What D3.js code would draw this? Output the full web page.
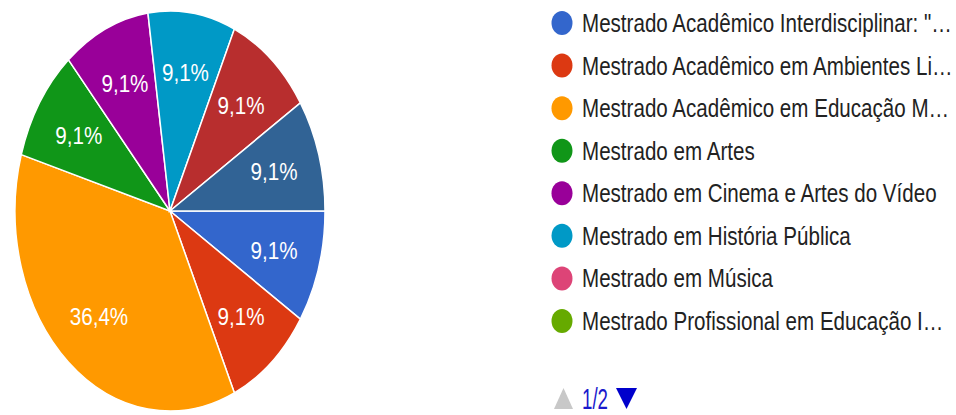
<!DOCTYPE html>
<html><head><meta charset="utf-8">
<script src="https://cdn.jsdelivr.net/npm/d3@7"></script>
<style>html,body{margin:0;padding:0;background:#fff;}svg{display:block;font-family:"Liberation Sans",Arial,sans-serif;}</style>
</head><body>
<svg id="c" width="956" height="415"></svg>
<script>
const categories = [
  'Mestrado Acadêmico Interdisciplinar: "…',
  'Mestrado Acadêmico em Ambientes Li…',
  'Mestrado Acadêmico em Educação M…',
  'Mestrado em Artes',
  'Mestrado em Cinema e Artes do Vídeo',
  'Mestrado em História Pública',
  'Mestrado em Música',
  'Mestrado Profissional em Educação I…',
  'Categoria 9',
  'Categoria 10'
];
const values = [1, 1, 4, 1, 1, 1, 0, 0, 1, 1];
const colors = ["#3366cc","#dc3912","#ff9900","#109618","#990099","#0099c6","#dd4477","#66aa00","#b82e2e","#316395"];
const legendCount = 8;
const pageLabel = "1/2";

const svg = d3.select("#c");
const cx = 170, cy = 211, R = 200, sx = 0.775;

const pie = d3.pie().sort(null).value(d => d.v).startAngle(Math.PI/2).endAngle(Math.PI/2 + 2*Math.PI);
const data = pie(values.map((v,i)=>({v, i})));
const arc = d3.arc().innerRadius(0).outerRadius(R);
const total = d3.sum(values);

const g = svg.append("g").attr("transform", `translate(${cx},${cy}) scale(${sx},1)`);
g.selectAll("path").data(data.filter(d=>d.data.v>0)).join("path")
  .attr("d", arc)
  .attr("fill", d => colors[d.data.i])
  .attr("stroke", "#fff")
  .attr("stroke-width", 1.5)
  .attr("vector-effect", "non-scaling-stroke");

const labelArc = d3.arc().innerRadius(R*0.7).outerRadius(R*0.7);
const fmt = v => (Math.round(v/total*1000)/10).toFixed(1).replace(".", ",") + "%";
const lg = svg.append("g").attr("transform", `translate(${cx},${cy})`);
const labels = lg.selectAll("text").data(data.filter(d=>d.data.v>0)).join("text")
  .attr("fill", "#fff")
  .attr("font-size", 24)
  .attr("text-anchor", "middle")
  .text(d => fmt(d.data.v));
const tw = labels.node().getComputedTextLength();
const lsx = 47 / tw;
labels.attr("transform", d => { const c = labelArc.centroid(d); return `translate(${c[0]*sx},${c[1]+8.5}) scale(${lsx},1)`; });

// legend
const leg = svg.append("g");
const rowY = d3.scaleLinear().domain([0, legendCount-1]).range([32, 330]);
const items = leg.selectAll("g").data(d3.range(legendCount)).join("g")
  .attr("transform", i => `translate(0,${rowY(i)})`);
items.append("ellipse").attr("cx", 562).attr("cy", -9).attr("rx", 10.5).attr("ry", 12).attr("fill", i => colors[i]);
const ltexts = items.append("text").attr("x", 0).attr("y", 0).attr("font-size", 26.5).attr("fill", "#222").text(i => categories[i]);
const w0 = ltexts.node().getComputedTextLength();
const tsx = 370 / w0;
ltexts.attr("transform", `translate(582,0) scale(${tsx},1)`);

// pager
const py = 409;
svg.append("path").attr("d", `M554,${py} L563.5,388 L573,${py} Z`).attr("fill", "#c8c8c8");
const pt = svg.append("text").attr("font-size", 29).attr("fill", "#1a1acc").text(pageLabel);
const pw = pt.node().getComputedTextLength();
pt.attr("transform", `translate(582,${py}) scale(${26/pw},1)`);
svg.append("path").attr("d", `M616,388 L637,388 L626.5,${py} Z`).attr("fill", "#0000cc");
</script>
</body></html>
